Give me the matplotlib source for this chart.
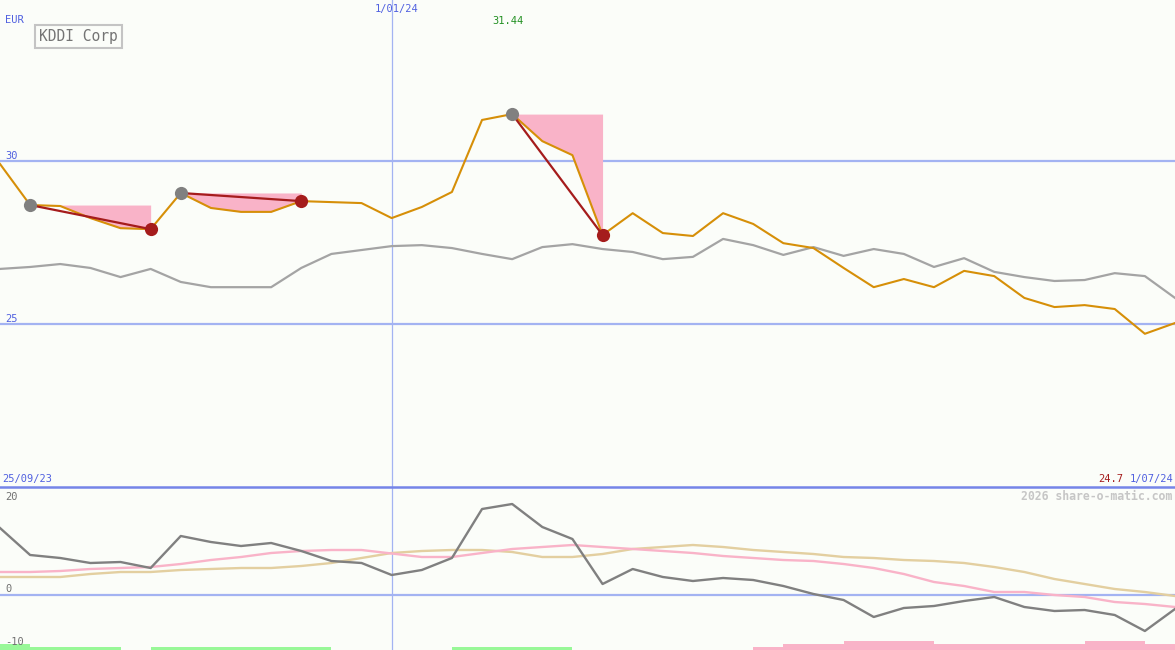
import matplotlib
matplotlib.use("Agg")
import matplotlib.pyplot as plt
from matplotlib.lines import Line2D
import numpy as np

# ---------------- data ----------------
dates_labels = ["25/09/23", "1/01/24", "1/07/24"]
title = "KDDI Corp"
currency = "EUR"

price = [29.91, 28.65, 28.62, 28.25, 27.94, 27.91, 29.02, 28.56, 28.44, 28.44,
         28.77, 28.74, 28.71, 28.25, 28.59, 29.05, 31.26, 31.44, 30.61, 30.18,
         27.73, 28.40, 27.79, 27.70, 28.40, 28.07, 27.48, 27.33, 26.72, 26.13,
         26.38, 26.13, 26.63, 26.47, 25.80, 25.52, 25.58, 25.46, 24.70, 25.03]

index_line = [26.69, 26.75, 26.84, 26.72, 26.44, 26.69, 26.29, 26.13, 26.13, 26.13,
              26.72, 27.15, 27.27, 27.39, 27.42, 27.33, 27.15, 26.99, 27.36, 27.45,
              27.30, 27.21, 26.99, 27.06, 27.61, 27.42, 27.12, 27.36, 27.09, 27.30,
              27.15, 26.75, 27.02, 26.60, 26.44, 26.32, 26.35, 26.56, 26.47, 25.80]

momentum = [13.4, 8.0, 7.4, 6.4, 6.6, 5.4, 11.8, 10.6, 9.8, 10.4,
            8.8, 6.8, 6.4, 4.0, 5.0, 7.4, 17.2, 18.2, 13.6, 11.2,
            2.2, 5.2, 3.6, 2.8, 3.4, 3.0, 1.8, 0.2, -1.0, -4.4,
            -2.6, -2.2, -1.2, -0.4, -2.4, -3.2, -3.0, -4.0, -7.2, -2.8]

ma_pink = [4.6, 4.6, 4.8, 5.2, 5.4, 5.6, 6.2, 7.0, 7.6, 8.4,
           8.8, 9.0, 9.0, 8.3, 7.6, 7.6, 8.4, 9.2, 9.6, 10.0,
           9.6, 9.2, 8.8, 8.4, 7.8, 7.4, 7.0, 6.8, 6.2, 5.4,
           4.2, 2.6, 1.8, 0.6, 0.6, 0.0, -0.4, -1.4, -1.8, -2.4]

ma_tan = [3.6, 3.6, 3.6, 4.2, 4.6, 4.6, 5.0, 5.2, 5.4, 5.4,
          5.8, 6.4, 7.4, 8.4, 8.8, 9.0, 9.0, 8.6, 7.6, 7.6,
          8.2, 9.2, 9.6, 10.0, 9.6, 9.0, 8.6, 8.2, 7.6, 7.4,
          7.0, 6.8, 6.4, 5.6, 4.6, 3.2, 2.2, 1.2, 0.6, -0.2]

# weekly signal strength (per interval): + green, - pink
signal = [2, 1, 1, 1, 0, 1, 1, 1, 1, 1, 1, 0, 0, 0, 0, 1, 1, 1, 1, 0,
          0, 0, 0, 0, 0, -1, -2, -2, -3, -3, -3, -2, -2, -2, -2, -2, -3, -3, -2]

dd_peak = [1, 6, 17]
dd_trough = [5, 10, 20]

price_ticks = [30, 25]
osc_ticks = ["20", "0", "-10"]
max_label = "31.44"
min_label = "24.7"
jan_index = 13

# ---------------- style ----------------
W, H = 1175, 650
BG = "#FBFDF9"
BLUE_TXT = "#5060E0"
GRID = "#A3B3F2"
ORANGE = "#D68F08"
GRAYL = "#A4A4A4"
DARKG = "#808080"
PINK = "#F9B3C8"
TAN = "#E3CFA0"
RED = "#A51C1C"
GREEN_BAR = "#98F898"
FONT = "DejaVu Sans Mono"

fig = plt.figure(figsize=(W / 100, H / 100), dpi=100, facecolor=BG)
ax = fig.add_axes([0, 163 / H, 1, 487 / H])
ax2 = fig.add_axes([0, 0, 1, 163 / H])
for a in (ax, ax2):
    a.set_axis_off()

x = np.arange(len(price))
ax.set_xlim(0, len(price) - 1)
ax2.set_xlim(0, len(price) - 1)
ax.set_ylim(20.0, 34.94)
ax2.set_ylim(-11.0, 21.6)

# grid
for t in price_ticks:
    ax.axhline(t, color=GRID, lw=1.6, zorder=1)
ax2.axhline(0, color=GRID, lw=1.6, zorder=1)
ax.axvline(jan_index, color=GRID, lw=0.9, zorder=1)
ax2.axvline(jan_index, color=GRID, lw=0.9, zorder=1)
fig.lines.append(Line2D([0, 1], [163 / H, 163 / H], transform=fig.transFigure,
                        color="#7585E8", lw=1.8))

# main panel
p = np.array(price)
for pk, tr in zip(dd_peak, dd_trough):
    xs = x[pk:tr + 1]
    ax.fill_between(xs, p[pk], p[pk:tr + 1], color=PINK, lw=0, zorder=2)
ax.plot(x, index_line, color=GRAYL, lw=1.6, zorder=3)
ax.plot(x, price, color=ORANGE, lw=1.5, zorder=4)
for pk, tr in zip(dd_peak, dd_trough):
    ax.plot([pk, tr], [p[pk], p[tr]], color=RED, lw=1.6, zorder=5)
    ax.plot(pk, p[pk], "o", color="#808080", ms=9.5, mew=0, zorder=6)
    ax.plot(tr, p[tr], "o", color=RED, ms=9.5, mew=0, zorder=6)

# lower panel
ax2.plot(x, ma_tan, color=TAN, lw=1.7, zorder=3)
ax2.plot(x, ma_pink, color=PINK, lw=1.7, zorder=3)
ax2.plot(x, momentum, color=DARKG, lw=1.7, zorder=4)
sig = np.array(signal)
heights = np.abs(sig) * 0.6
colors = [GREEN_BAR if s > 0 else PINK for s in sig]
ax2.bar(x[:-1], heights, width=1.0, align="edge", bottom=-11.0,
        color=colors, lw=0, zorder=2)

# text
def px(xp, yp):
    return xp / W, 1 - yp / H

fs = 7.5
fig.text(*px(5, 20), currency, color=BLUE_TXT, fontsize=fs, family=FONT, va="center")
fig.text(*px(78.5, 36.5), title, color="#747474", fontsize=10.5, family=FONT,
         ha="center", va="center",
         bbox=dict(boxstyle="square,pad=0.3", fc=BG, ec="#C4C4C4", lw=1.5))
fig.text(*px(375, 9), dates_labels[1], color=BLUE_TXT, fontsize=fs, family=FONT, va="center")
fig.text(*px(492, 21), max_label, color="#229022", fontsize=fs, family=FONT, va="center")
fig.text(*px(5, 156), str(price_ticks[0]), color=BLUE_TXT, fontsize=fs, family=FONT, va="center")
fig.text(*px(5, 319), str(price_ticks[1]), color=BLUE_TXT, fontsize=fs, family=FONT, va="center")
fig.text(*px(2, 479), dates_labels[0], color=BLUE_TXT, fontsize=fs, family=FONT, va="center")
fig.text(*px(1098, 479), min_label, color=RED, fontsize=fs, family=FONT, va="center")
fig.text(*px(1173, 479), dates_labels[2], color=BLUE_TXT, fontsize=fs, family=FONT,
         va="center", ha="right")
fig.text(*px(1172, 496), "2026 share-o-matic.com", color="#C6C6C6", fontsize=8.3,
         family=FONT, va="center", ha="right", weight="bold")
for lab, yp in zip(osc_ticks, [497, 589, 642]):
    fig.text(*px(5, yp), lab, color="#707070", fontsize=fs, family=FONT, va="center")

fig.savefig("out.png", dpi=100, facecolor=BG)
